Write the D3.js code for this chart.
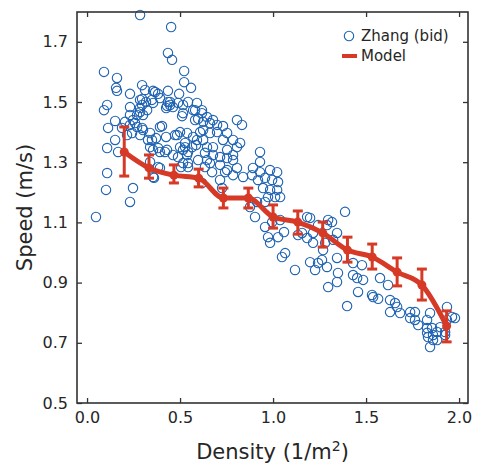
<!DOCTYPE html>
<html><head><meta charset="utf-8">
<script src="https://cdn.jsdelivr.net/npm/d3@7"></script>
<style>
body{margin:0;background:#fff;}
svg{display:block;font-family:"DejaVu Sans",sans-serif;}
</style></head>
<body><svg id="c" width="478" height="466"></svg>
<script>
// ---- data ----
const xTicks = [0.0, 0.5, 1.0, 1.5, 2.0];
const yTicks = [0.5, 0.7, 0.9, 1.1, 1.3, 1.5, 1.7];
const xLabel = "Density (1/m";
const yLabel = "Speed (m/s)";
const legendLabels = ["Zhang (bid)", "Model"];

const modelDensity = [0.2,0.333,0.467,0.6,0.733,0.867,1.0,1.133,1.267,1.4,1.533,1.667,1.8,1.933];
const modelSpeed   = [1.334,1.281,1.257,1.247,1.181,1.181,1.118,1.101,1.065,1.008,0.985,0.935,0.892,0.756];
const modelLow     = [1.254,1.247,1.231,1.218,1.148,1.148,1.081,1.061,1.018,0.968,0.945,0.889,0.842,0.703];
const modelHigh    = [1.417,1.324,1.291,1.277,1.214,1.214,1.158,1.138,1.101,1.051,1.028,0.982,0.945,0.806];

const zhang = [
[0.285,1.789],[0.452,1.749],[0.435,1.663],[0.457,1.640],[0.522,1.603],[0.522,1.566],[0.559,1.547],
[0.091,1.600],[0.161,1.580],[0.156,1.547],[0.161,1.537],[0.108,1.490],[0.091,1.473],[0.231,1.527],
[0.296,1.556],[0.312,1.540],[0.355,1.537],[0.231,1.483],[0.285,1.507],[0.296,1.490],[0.151,1.437],
[0.113,1.414],[0.188,1.414],[0.242,1.397],[0.215,1.390],[0.269,1.417],[0.323,1.473],[0.301,1.457],
[0.339,1.397],[0.285,1.390],[0.349,1.374],[0.108,1.347],[0.167,1.334],[0.355,1.341],[0.355,1.251],
[0.108,1.264],[0.102,1.208],[0.247,1.214],[0.231,1.168],[0.048,1.118],[0.382,1.527],[0.435,1.537],
[0.495,1.527],[0.349,1.507],[0.392,1.513],[0.446,1.500],[0.462,1.483],[0.430,1.487],[0.516,1.490],
[0.591,1.497],[0.511,1.453],[0.581,1.473],[0.618,1.463],[0.597,1.444],[0.624,1.434],[0.661,1.430],
[0.699,1.424],[0.731,1.420],[0.806,1.440],[0.285,1.467],[0.269,1.457],[0.231,1.457],[0.258,1.430],
[0.296,1.414],[0.403,1.420],[0.484,1.390],[0.538,1.397],[0.527,1.350],[0.565,1.350],[0.500,1.350],
[0.543,1.334],[0.591,1.374],[0.624,1.374],[0.645,1.350],[0.677,1.350],[0.753,1.397],[0.785,1.374],
[0.753,1.341],[0.806,1.350],[0.339,1.350],[0.430,1.341],[0.392,1.334],[0.462,1.324],[0.634,1.331],
[0.715,1.317],[0.785,1.307],[0.382,1.284],[0.516,1.297],[0.360,1.248],[0.392,1.281],[0.543,1.284],
[0.618,1.231],[0.672,1.267],[0.726,1.214],[0.753,1.274],[0.785,1.257],[0.753,1.314],[0.538,1.324],
[0.645,1.307],[0.366,1.533],[0.296,1.510],[0.317,1.500],[0.355,1.497],[0.435,1.500],[0.489,1.497],
[0.543,1.500],[0.285,1.480],[0.425,1.480],[0.446,1.490],[0.516,1.463],[0.570,1.473],[0.581,1.440],
[0.247,1.440],[0.204,1.434],[0.231,1.424],[0.301,1.407],[0.392,1.417],[0.328,1.374],[0.371,1.380],
[0.425,1.384],[0.473,1.390],[0.500,1.400],[0.570,1.384],[0.608,1.400],[0.527,1.364],[0.516,1.341],
[0.586,1.357],[0.151,1.374],[0.382,1.347],[0.419,1.334],[0.489,1.317],[0.543,1.297],[0.597,1.307],
[0.339,1.301],[0.505,1.284],
[0.618,1.473],[0.645,1.450],[0.677,1.440],[0.833,1.424],[0.624,1.407],[0.661,1.397],[0.699,1.400],
[0.731,1.374],[0.823,1.364],[0.677,1.324],[0.785,1.324],[0.661,1.297],[0.715,1.291],[0.742,1.267],
[0.806,1.281],[0.839,1.251],[0.930,1.334],[0.930,1.301],[0.892,1.281],[0.887,1.257],[0.930,1.267],
[0.984,1.274],[1.022,1.267],[0.957,1.248],[0.919,1.241],[0.995,1.241],[1.027,1.234],[0.946,1.214],
[0.984,1.208],[1.022,1.208],[1.011,1.184],[1.038,1.184],[0.973,1.184],[0.957,1.168],[0.914,1.168],
[0.903,1.118],[0.957,1.085],[0.995,1.101],[1.038,1.108],[0.973,1.051],[1.027,1.051],[0.984,1.032],
[1.048,0.985],[1.065,0.998],[1.183,1.118],[1.183,1.048],[0.876,1.151],[0.715,1.241],[0.634,1.284],
[1.387,1.135],[1.199,1.115],[1.296,1.108],[1.317,1.101],[1.290,1.091],[1.242,1.091],[1.156,1.065],
[1.215,1.065],[1.215,1.032],[1.280,1.032],[1.344,1.065],[1.323,1.042],[1.269,1.008],[1.199,0.968],
[1.242,0.965],[1.263,0.975],[1.226,0.942],[1.290,0.952],[1.344,0.982],[1.349,0.932],[1.344,0.902],
[1.296,0.885],[1.430,0.925],[1.452,0.915],[1.484,0.909],[1.478,0.958],[1.430,0.965],[1.457,0.869],
[1.575,0.915],[1.618,0.892],[1.532,0.859],[1.565,0.846],[1.398,0.822],[1.629,0.842],[1.656,0.832],
[1.667,0.819],[1.683,0.799],[1.629,0.802],[1.737,0.802],[1.763,0.802],[1.763,0.776],[1.780,0.759],
[1.737,0.782],[1.828,0.776],[1.844,0.799],[1.828,0.749],[1.855,0.749],[1.882,0.736],[1.860,0.726],
[1.833,0.719],[1.844,0.686],[1.882,0.709],[1.898,0.752],[1.925,0.736],[1.935,0.819],[1.962,0.786],
[1.978,0.782],[1.935,0.776],[1.925,0.726],[1.860,0.709],[1.828,0.733],[1.538,0.852],[1.059,1.068],
[1.134,1.058],[1.118,0.942]
];

// ---- styles ----
const blue = "#1f63b3", red = "#d63a26", axisCol = "#333333", txtCol = "#262626";
const svg = d3.select("#c");
const L = 77, R = 468, T = 12, B = 403;
const x = d3.scaleLinear().domain([-0.054, 2.048]).range([L, R]);
const y = d3.scaleLinear().domain([0.5, 1.799]).range([B, T]);

// scatter
svg.append("g").selectAll("circle").data(zhang).join("circle")
  .attr("cx", d => x(d[0])).attr("cy", d => y(d[1])).attr("r", 4.7)
  .attr("fill", "none").attr("stroke", blue).attr("stroke-width", 1.1);

// model line
const pts = modelDensity.map((d, i) => ({x: d, y: modelSpeed[i], lo: modelLow[i], hi: modelHigh[i]}));
svg.append("path").datum(pts)
  .attr("d", d3.line().x(d => x(d.x)).y(d => y(d.y)).curve(d3.curveMonotoneX))
  .attr("fill", "none").attr("stroke", red).attr("stroke-width", 5)
  .attr("stroke-linejoin", "round").attr("stroke-linecap", "round");
const eb = svg.append("g").attr("stroke", red).attr("stroke-width", 3);
eb.selectAll(".v").data(pts).join("line")
  .attr("x1", d => x(d.x)).attr("x2", d => x(d.x)).attr("y1", d => y(d.lo)).attr("y2", d => y(d.hi));
eb.selectAll(".t").data(pts).join("line")
  .attr("x1", d => x(d.x) - 5).attr("x2", d => x(d.x) + 5).attr("y1", d => y(d.hi)).attr("y2", d => y(d.hi));
eb.selectAll(".b").data(pts).join("line")
  .attr("x1", d => x(d.x) - 5).attr("x2", d => x(d.x) + 5).attr("y1", d => y(d.lo)).attr("y2", d => y(d.lo));
svg.append("g").selectAll("circle").data(pts).join("circle")
  .attr("cx", d => x(d.x)).attr("cy", d => y(d.y)).attr("r", 4.5).attr("fill", red);

// axes
function styleAxis(g) {
  g.select(".domain").remove();
  g.selectAll(".tick line").attr("stroke", axisCol).attr("stroke-width", 1.3);
  g.selectAll(".tick text").attr("fill", txtCol).style("font-size", "16px").style("font-family", "DejaVu Sans");
}
svg.append("g").attr("transform", `translate(0,${B})`)
  .call(d3.axisBottom(x).tickValues(xTicks).tickFormat(d3.format(".1f")).tickSize(-5).tickPadding(9)).call(styleAxis);
svg.append("g").attr("transform", `translate(0,${T})`)
  .call(d3.axisTop(x).tickValues(xTicks).tickFormat("").tickSize(-5)).call(styleAxis);
svg.append("g").attr("transform", `translate(${L},0)`)
  .call(d3.axisLeft(y).tickValues(yTicks).tickFormat(d3.format(".1f")).tickSize(-5).tickPadding(9)).call(styleAxis);
svg.append("g").attr("transform", `translate(${R},0)`)
  .call(d3.axisRight(y).tickValues(yTicks).tickFormat("").tickSize(-5)).call(styleAxis);
svg.append("rect").attr("x", L).attr("y", T).attr("width", R - L).attr("height", B - T)
  .attr("fill", "none").attr("stroke", axisCol).attr("stroke-width", 1.6);

// axis labels
const xl = svg.append("text").attr("x", (L + R) / 2).attr("y", 459).attr("text-anchor", "middle")
  .attr("fill", txtCol).style("font-size", "21px");
xl.append("tspan").text(xLabel);
xl.append("tspan").attr("dy", -8).style("font-size", "14px").text("2");
xl.append("tspan").attr("dy", 8).text(")");
svg.append("text").attr("transform", `translate(32,${(T + B) / 2}) rotate(-90)`).attr("text-anchor", "middle")
  .attr("fill", txtCol).style("font-size", "21px").text(yLabel);

// legend
svg.append("circle").attr("cx", 349).attr("cy", 36).attr("r", 4.7).attr("fill", "none")
  .attr("stroke", blue).attr("stroke-width", 1.1);
svg.append("line").attr("x1", 342).attr("x2", 357).attr("y1", 56).attr("y2", 56)
  .attr("stroke", red).attr("stroke-width", 4);
svg.append("text").attr("x", 361).attr("y", 41).attr("fill", txtCol).style("font-size", "15px").text(legendLabels[0]);
svg.append("text").attr("x", 361).attr("y", 61).attr("fill", txtCol).style("font-size", "15px").text(legendLabels[1]);
</script></body></html>
